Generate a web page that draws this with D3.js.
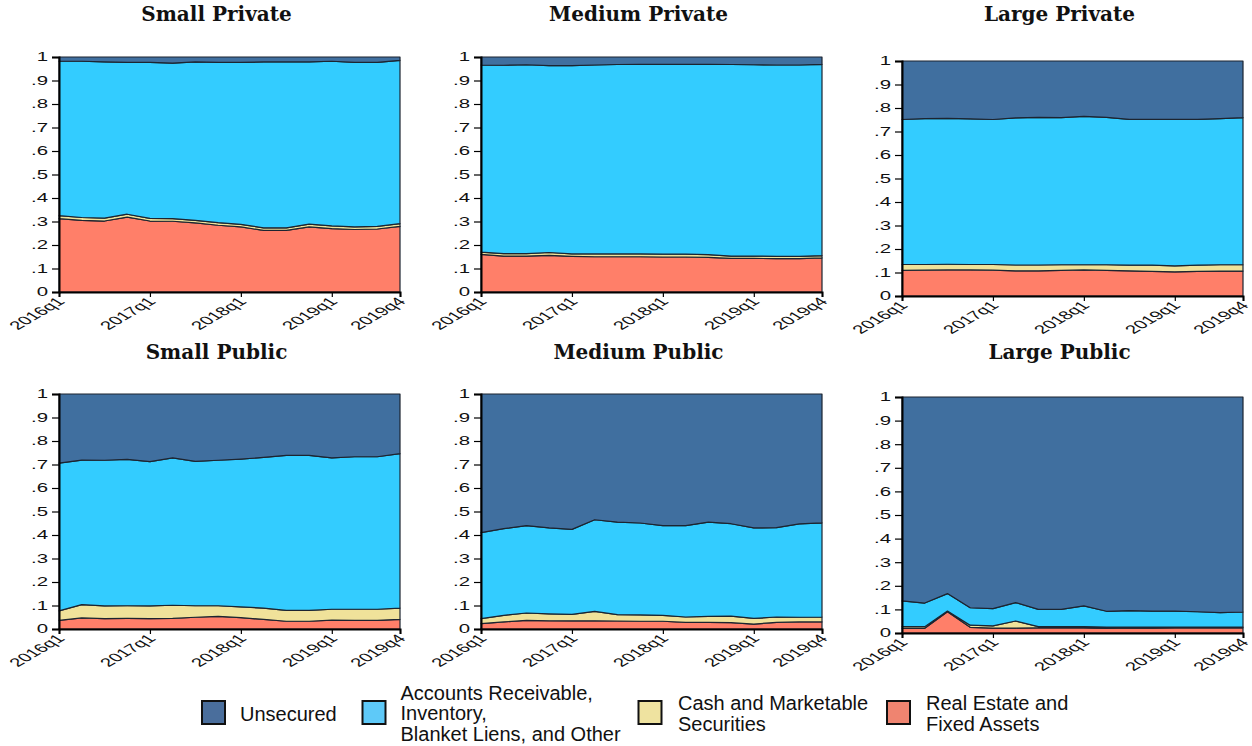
<!DOCTYPE html>
<html>
<head>
<meta charset="utf-8">
<script src="https://cdn.jsdelivr.net/npm/d3@7"></script>
<style>
  html, body { margin: 0; padding: 0; background: #ffffff; }
  svg { display: block; }
</style>
</head>
<body>
<svg id="chart" width="1252" height="746"></svg>
<script>
// Quarters on the horizontal axis
const quarters = ["2016q1","2016q2","2016q3","2016q4","2017q1","2017q2","2017q3","2017q4",
                  "2018q1","2018q2","2018q3","2018q4","2019q1","2019q2","2019q3","2019q4"];
const xTickLabels = ["2016q1","2017q1","2018q1","2019q1","2019q4"];
const yTickValues = [0, 0.1, 0.2, 0.3, 0.4, 0.5, 0.6, 0.7, 0.8, 0.9, 1];

// Collateral categories, stacked from the bottom up
const seriesKeys   = ["realEstate", "cash", "receivables", "unsecured"];
const legendLabels = {
  unsecured:   ["Unsecured"],
  receivables: ["Accounts Receivable,", "Inventory,", "Blanket Liens, and Other"],
  cash:        ["Cash and Marketable", "Securities"],
  realEstate:  ["Real Estate and", "Fixed Assets"]
};

// Shares of each collateral type by quarter
const smallPrivateRealEstate  = [0.312,0.305,0.302,0.319,0.302,0.301,0.294,0.284,0.277,0.262,0.262,0.277,0.270,0.266,0.268,0.279];
const smallPrivateCash        = [0.013,0.012,0.012,0.012,0.011,0.011,0.011,0.011,0.011,0.011,0.011,0.012,0.011,0.011,0.011,0.012];
const smallPrivateReceivables = [0.657,0.665,0.665,0.646,0.664,0.662,0.674,0.682,0.689,0.706,0.706,0.690,0.701,0.700,0.698,0.695];
const smallPrivateUnsecured   = [0.018,0.018,0.021,0.023,0.023,0.026,0.021,0.023,0.023,0.021,0.021,0.021,0.018,0.023,0.023,0.014];

const mediumPrivateRealEstate  = [0.160,0.153,0.153,0.156,0.152,0.150,0.150,0.150,0.149,0.149,0.147,0.143,0.143,0.142,0.142,0.145];
const mediumPrivateCash        = [0.010,0.010,0.010,0.012,0.010,0.012,0.012,0.012,0.012,0.012,0.012,0.010,0.010,0.010,0.010,0.010];
const mediumPrivateReceivables = [0.796,0.802,0.804,0.795,0.801,0.804,0.806,0.807,0.808,0.808,0.810,0.815,0.814,0.814,0.814,0.814];
const mediumPrivateUnsecured   = [0.034,0.035,0.033,0.037,0.037,0.034,0.032,0.031,0.031,0.031,0.031,0.032,0.033,0.034,0.034,0.031];

const largePrivateRealEstate  = [0.109,0.110,0.111,0.111,0.110,0.107,0.107,0.109,0.111,0.109,0.107,0.105,0.103,0.105,0.106,0.106];
const largePrivateCash        = [0.025,0.024,0.024,0.023,0.024,0.025,0.025,0.024,0.022,0.024,0.024,0.026,0.025,0.026,0.027,0.027];
const largePrivateReceivables = [0.617,0.621,0.621,0.620,0.617,0.626,0.628,0.626,0.631,0.627,0.621,0.621,0.624,0.621,0.622,0.626];
const largePrivateUnsecured   = [0.249,0.245,0.244,0.246,0.249,0.242,0.240,0.241,0.236,0.240,0.248,0.248,0.248,0.248,0.245,0.241];

const smallPublicRealEstate  = [0.037,0.047,0.044,0.045,0.044,0.045,0.050,0.054,0.048,0.041,0.033,0.033,0.038,0.037,0.037,0.041];
const smallPublicCash        = [0.040,0.057,0.054,0.054,0.054,0.056,0.049,0.045,0.046,0.048,0.046,0.046,0.046,0.047,0.047,0.048];
const smallPublicReceivables = [0.629,0.615,0.620,0.623,0.614,0.627,0.614,0.619,0.629,0.641,0.660,0.660,0.644,0.649,0.649,0.657];
const smallPublicUnsecured   = [0.294,0.281,0.282,0.278,0.288,0.272,0.287,0.282,0.277,0.270,0.261,0.261,0.272,0.267,0.267,0.254];

const mediumPublicRealEstate  = [0.023,0.030,0.037,0.035,0.035,0.035,0.034,0.033,0.033,0.028,0.028,0.027,0.021,0.028,0.030,0.030];
const mediumPublicCash        = [0.021,0.028,0.031,0.029,0.027,0.040,0.027,0.027,0.025,0.023,0.026,0.028,0.024,0.023,0.020,0.021];
const mediumPublicReceivables = [0.366,0.369,0.372,0.366,0.362,0.390,0.394,0.391,0.382,0.389,0.401,0.393,0.385,0.380,0.397,0.401];
const mediumPublicUnsecured   = [0.590,0.573,0.560,0.570,0.576,0.535,0.545,0.549,0.560,0.560,0.545,0.552,0.570,0.569,0.553,0.548];

const largePublicRealEstate  = [0.020,0.020,0.090,0.024,0.021,0.021,0.022,0.022,0.022,0.020,0.022,0.021,0.022,0.022,0.022,0.022];
const largePublicCash        = [0.007,0.007,0.003,0.009,0.009,0.030,0.005,0.005,0.005,0.005,0.003,0.004,0.003,0.003,0.003,0.003];
const largePublicReceivables = [0.109,0.100,0.074,0.074,0.073,0.078,0.073,0.073,0.088,0.067,0.070,0.068,0.068,0.065,0.061,0.064];
const largePublicUnsecured   = [0.864,0.873,0.833,0.893,0.897,0.871,0.900,0.900,0.885,0.908,0.905,0.907,0.907,0.910,0.914,0.911];

const panelTitles = ["Small Private", "Medium Private", "Large Private",
                     "Small Public", "Medium Public", "Large Public"];
const panelSeries = [
  [smallPrivateRealEstate,  smallPrivateCash,  smallPrivateReceivables,  smallPrivateUnsecured],
  [mediumPrivateRealEstate, mediumPrivateCash, mediumPrivateReceivables, mediumPrivateUnsecured],
  [largePrivateRealEstate,  largePrivateCash,  largePrivateReceivables,  largePrivateUnsecured],
  [smallPublicRealEstate,   smallPublicCash,   smallPublicReceivables,   smallPublicUnsecured],
  [mediumPublicRealEstate,  mediumPublicCash,  mediumPublicReceivables,  mediumPublicUnsecured],
  [largePublicRealEstate,   largePublicCash,   largePublicReceivables,   largePublicUnsecured]
];

// ---- styling and layout ----
const areaColors   = { unsecured: "#406f9f", receivables: "#33ccff", cash: "#f0e29a", realEstate: "#ff7f69" };
const legendColors = { unsecured: "#4a6e9c", receivables: "#5ec9f8", cash: "#efe3a0", realEstate: "#ef8470" };

// plot rectangles [left, right, top, bottom] and title baselines
const panelBoxes = [
  { l: 59,  r: 400,  t: 57,  b: 292, titleY: 21 },
  { l: 481, r: 822,  t: 57,  b: 292, titleY: 21 },
  { l: 902, r: 1243, t: 61,  b: 296, titleY: 21 },
  { l: 59,  r: 400,  t: 394, b: 629, titleY: 359 },
  { l: 481, r: 822,  t: 394, b: 629, titleY: 359 },
  { l: 902, r: 1243, t: 397, b: 633, titleY: 359 }
];

const tickFont = "'Liberation Sans', Arial, sans-serif";
const stretch = 1.7;   // tick labels are drawn wide

const svg = d3.select("#chart");

const stack = d3.stack()
  .keys(seriesKeys)
  .order(d3.stackOrderNone)
  .offset(d3.stackOffsetNone);

const yFmt = v => v === 0 ? "0" : v === 1 ? "1" : d3.format(".1f")(v).replace(/^0/, "");

panelBoxes.forEach((box, pi) => {
  const rows = quarters.map((q, i) => {
    const row = { quarter: q };
    seriesKeys.forEach((k, si) => { row[k] = panelSeries[pi][si][i]; });
    return row;
  });

  const x = d3.scalePoint().domain(quarters).range([box.l, box.r]);
  const y = d3.scaleLinear().domain([0, 1]).range([box.b, box.t]);

  const g = svg.append("g");

  const area = d3.area()
    .x(d => x(d.data.quarter))
    .y0(d => y(d[0]))
    .y1(d => y(d[1]));

  g.selectAll("path.layer")
    .data(stack(rows))
    .join("path")
      .attr("class", "layer")
      .attr("d", area)
      .attr("fill", d => areaColors[d.key])
      .attr("stroke", "#1c2430")
      .attr("stroke-width", 1.2)
      .attr("stroke-linejoin", "round");

  // y axis
  const yAxis = g.append("g")
    .attr("transform", `translate(${box.l},0)`)
    .call(d3.axisLeft(y).tickValues(yTickValues).tickFormat(yFmt).tickSizeOuter(0).tickSize(7).tickPadding(4));
  yAxis.select(".domain").attr("stroke", "#000").attr("stroke-width", 2);
  yAxis.selectAll(".tick line").attr("stroke", "#000").attr("stroke-width", 1.2);
  yAxis.selectAll(".tick text")
    .attr("font-family", tickFont)
    .attr("font-size", 12)
    .attr("fill", "#111")
    .attr("x", 0)
    .attr("transform", `translate(-11,0) scale(${stretch},1)`);

  // x axis
  const xAxis = g.append("g")
    .attr("transform", `translate(0,${box.b})`)
    .call(d3.axisBottom(x).tickValues(xTickLabels).tickSizeOuter(0).tickSize(5));
  xAxis.select(".domain").attr("stroke", "#000").attr("stroke-width", 2);
  xAxis.selectAll(".tick line").attr("stroke", "#000").attr("stroke-width", 1.2);
  xAxis.selectAll(".tick text")
    .attr("font-family", tickFont)
    .attr("font-size", 12)
    .attr("fill", "#111")
    .attr("text-anchor", "end")
    .attr("x", 0).attr("y", 0).attr("dy", "0.5em")
    .attr("transform", `translate(-1,6) scale(${stretch},1) rotate(-45)`);

  // panel title
  svg.append("text")
    .attr("x", (box.l + box.r) / 2 - 13)
    .attr("y", box.titleY)
    .attr("text-anchor", "middle")
    .attr("font-family", "'DejaVu Serif', serif")
    .attr("font-weight", "bold")
    .attr("font-size", 20)
    .attr("fill", "#111")
    .text(panelTitles[pi]);
});

// legend
const legendItems = [
  { key: "unsecured",   sx: 202,   tx: 240,   baselines: [721] },
  { key: "receivables", sx: 362.5, tx: 400.5, baselines: [699.7, 720.2, 740.7] },
  { key: "cash",        sx: 638.5, tx: 678,   baselines: [709.7, 731] },
  { key: "realEstate",  sx: 887,   tx: 926,   baselines: [709.7, 731] }
];
const legend = svg.append("g");
legendItems.forEach(item => {
  legend.append("rect")
    .attr("x", item.sx).attr("y", 701)
    .attr("width", 23).attr("height", 23)
    .attr("fill", legendColors[item.key])
    .attr("stroke", "#111").attr("stroke-width", 2);
  legendLabels[item.key].forEach((line, li) => {
    legend.append("text")
      .attr("x", item.tx).attr("y", item.baselines[li])
      .attr("font-family", "'Liberation Sans', Arial, sans-serif")
      .attr("font-size", 20)
      .attr("fill", "#111")
      .text(line);
  });
});
</script>
</body>
</html>
